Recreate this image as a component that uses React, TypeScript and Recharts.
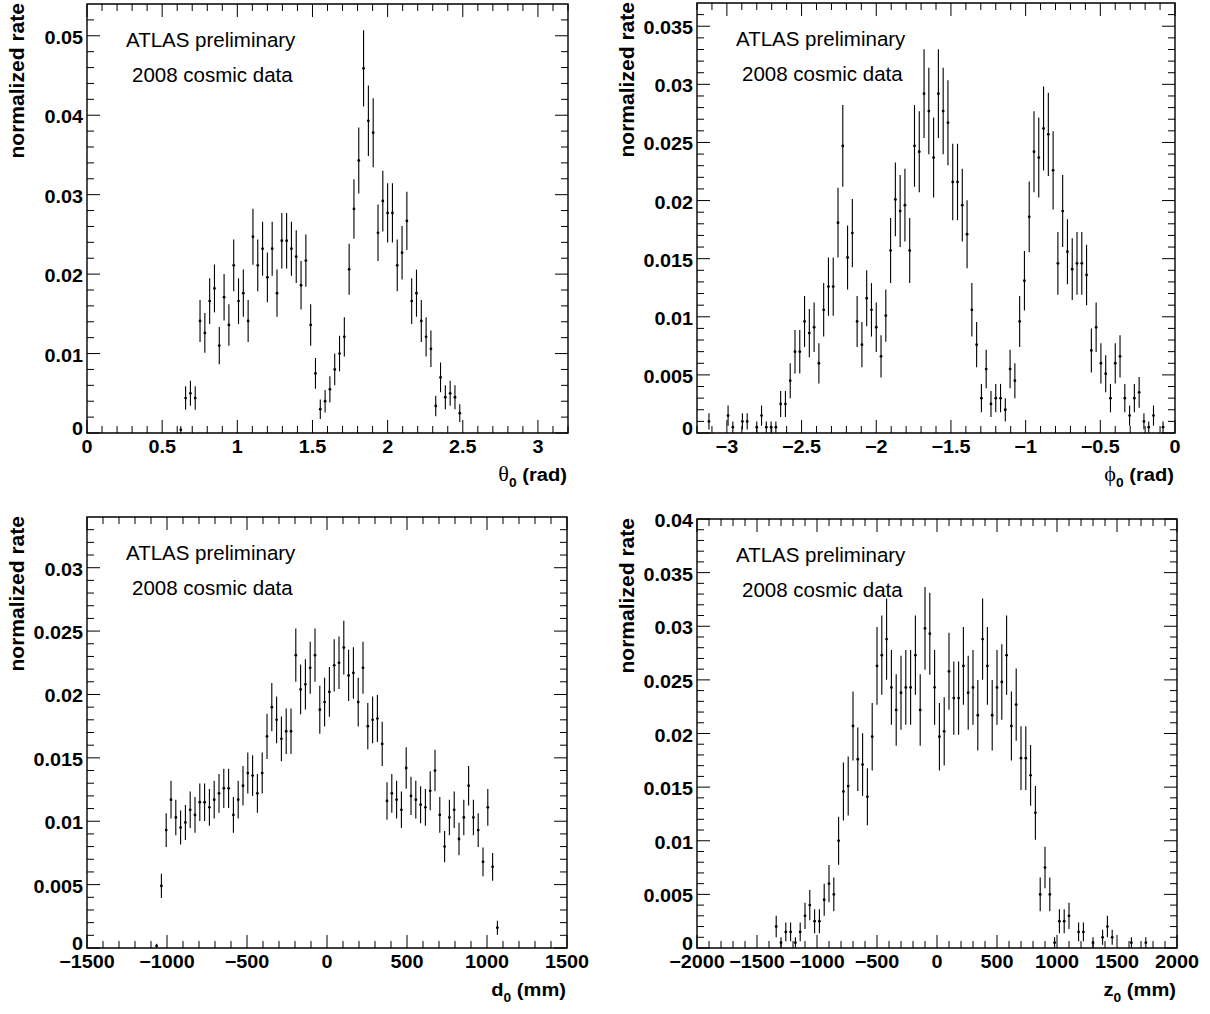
import React from 'react';
import { ScatterChart, Scatter, XAxis, YAxis, ErrorBar, ReferenceArea } from 'recharts';

// ---------- DATA (bin centres and normalized rates) ----------
const THETA_X = [0.624,0.656,0.688,0.72,0.752,0.784,0.816,0.848,0.88,0.912,0.944,0.976,1.008,1.04,1.072,1.104,1.136,1.168,1.2,1.232,1.264,1.296,1.328,1.36,1.392,1.424,1.456,1.488,1.52,1.552,1.584,1.616,1.648,1.68,1.712,1.744,1.776,1.808,1.84,1.872,1.904,1.936,1.968,2.0,2.032,2.064,2.096,2.128,2.16,2.192,2.224,2.256,2.288,2.32,2.352,2.384,2.416,2.448,2.48];
const THETA_Y = [0.0004,0.0044,0.005,0.0044,0.0141,0.0126,0.0166,0.0182,0.011,0.0171,0.0136,0.0211,0.0166,0.0176,0.0141,0.0247,0.0211,0.0232,0.0196,0.0232,0.0176,0.0242,0.0242,0.0232,0.0222,0.0186,0.0217,0.0136,0.0075,0.003,0.004,0.0055,0.008,0.01,0.0121,0.0206,0.0282,0.0343,0.0459,0.0393,0.0378,0.0252,0.0292,0.0277,0.0277,0.0211,0.0227,0.0267,0.0166,0.0176,0.0141,0.0121,0.0106,0.0034,0.007,0.0045,0.005,0.0045,0.0025];

const PHI_X = [-3.12,-2.992,-2.96,-2.896,-2.864,-2.8,-2.768,-2.736,-2.704,-2.672,-2.64,-2.608,-2.576,-2.544,-2.512,-2.48,-2.448,-2.416,-2.384,-2.352,-2.32,-2.288,-2.256,-2.224,-2.192,-2.16,-2.128,-2.096,-2.064,-2.032,-2.0,-1.968,-1.936,-1.904,-1.872,-1.84,-1.808,-1.776,-1.744,-1.712,-1.68,-1.648,-1.616,-1.584,-1.552,-1.52,-1.488,-1.456,-1.424,-1.392,-1.36,-1.328,-1.296,-1.264,-1.232,-1.2,-1.168,-1.136,-1.104,-1.072,-1.04,-1.008,-0.976,-0.944,-0.912,-0.88,-0.848,-0.816,-0.784,-0.752,-0.72,-0.688,-0.656,-0.624,-0.592,-0.56,-0.528,-0.496,-0.464,-0.432,-0.4,-0.368,-0.336,-0.304,-0.272,-0.24,-0.208,-0.176,-0.144,-0.08];
const PHI_Y = [0.001,0.0015,0.0005,0.001,0.001,0.0005,0.0015,0.0005,0.0005,0.0005,0.0025,0.0025,0.0045,0.007,0.007,0.0096,0.0086,0.0091,0.006,0.0106,0.0126,0.0126,0.0181,0.0247,0.0151,0.0172,0.0096,0.0076,0.0116,0.0106,0.0091,0.0066,0.0101,0.0157,0.0201,0.0191,0.0196,0.0157,0.0247,0.0242,0.0292,0.0277,0.0237,0.0292,0.0277,0.0267,0.0216,0.0216,0.0196,0.0171,0.0106,0.0076,0.003,0.0055,0.0025,0.003,0.003,0.002,0.0055,0.0045,0.0096,0.0131,0.0186,0.0242,0.0237,0.0262,0.0257,0.0226,0.0146,0.0191,0.0156,0.0141,0.0146,0.0146,0.0136,0.0071,0.0091,0.006,0.0051,0.003,0.006,0.0066,0.003,0.0015,0.003,0.0035,0.001,0.0005,0.0015,0.0005];

const D0_X = [-1065,-1035,-1005,-975,-945,-915,-885,-855,-825,-795,-765,-735,-705,-675,-645,-615,-585,-555,-525,-495,-465,-435,-405,-375,-345,-315,-285,-255,-225,-195,-165,-135,-105,-75,-45,-15,15,45,75,105,135,165,195,225,255,285,315,345,375,405,435,465,495,525,555,585,615,645,675,705,735,765,795,825,855,885,915,945,975,1005,1035,1065];
const D0_Y = [0.00016,0.0049,0.0093,0.0117,0.0103,0.0095,0.0099,0.0109,0.0105,0.0115,0.0115,0.0111,0.0117,0.0122,0.0126,0.0126,0.0105,0.0117,0.0128,0.0138,0.0136,0.0122,0.0138,0.0167,0.019,0.018,0.0165,0.0171,0.0171,0.0231,0.0204,0.0208,0.0221,0.0231,0.0188,0.0194,0.0202,0.0223,0.0225,0.0237,0.0215,0.0217,0.0194,0.0221,0.0175,0.018,0.0181,0.0161,0.0116,0.0122,0.0117,0.0109,0.0142,0.012,0.0117,0.0113,0.0111,0.0124,0.014,0.0105,0.008,0.0103,0.0109,0.0086,0.0103,0.0128,0.0103,0.0093,0.0068,0.0111,0.0064,0.0016];

const Z0_X = [-1340,-1300,-1260,-1220,-1180,-1140,-1100,-1060,-1020,-980,-940,-900,-860,-820,-780,-740,-700,-660,-620,-580,-540,-500,-460,-420,-380,-340,-300,-260,-220,-180,-140,-100,-60,-20,20,60,100,140,180,220,260,300,340,380,420,460,500,540,580,620,660,700,740,780,820,860,900,940,980,1020,1060,1100,1180,1220,1300,1380,1420,1460,1620,1740];
const Z0_Y = [0.002,0.0005,0.0015,0.0015,0.0005,0.0015,0.003,0.004,0.0025,0.0025,0.0045,0.006,0.005,0.01,0.0146,0.0151,0.0207,0.0176,0.0171,0.0141,0.0197,0.0263,0.0273,0.0288,0.0243,0.0222,0.0238,0.0243,0.0243,0.0273,0.0222,0.0298,0.0293,0.0243,0.0197,0.0202,0.0258,0.0233,0.0233,0.0263,0.0238,0.0243,0.0217,0.0288,0.0263,0.0217,0.0243,0.0248,0.0273,0.0207,0.0227,0.0177,0.0177,0.0161,0.0126,0.005,0.0075,0.005,0.0005,0.0025,0.0025,0.003,0.0015,0.0015,0.0005,0.001,0.002,0.001,0.0005,0.0005];

// weight of one event in each normalized histogram (Poisson errors: err = sqrt(rate * weight))
const THETA_WEIGHT = 0.0005;
const PHI_WEIGHT = 0.0005;
const D0_WEIGHT = 0.00019;
const Z0_WEIGHT = 0.0005;

// ---------- TICK LABELS ----------
const THETA_MAJOR = [0, 0.5, 1, 1.5, 2, 2.5, 3];
const THETA_LABELS = ['0', '0.5', '1', '1.5', '2', '2.5', '3'];
const THETA_Y_MAJOR = [0, 0.01, 0.02, 0.03, 0.04, 0.05];
const THETA_Y_LABELS = ['0', '0.01', '0.02', '0.03', '0.04', '0.05'];

const PHI_MAJOR = [-3, -2.5, -2, -1.5, -1, -0.5, 0];
const PHI_LABELS = ['\u22123', '\u22122.5', '\u22122', '\u22121.5', '\u22121', '\u22120.5', '0'];
const PHI_Y_MAJOR = [0, 0.005, 0.01, 0.015, 0.02, 0.025, 0.03, 0.035];
const PHI_Y_LABELS = ['0', '0.005', '0.01', '0.015', '0.02', '0.025', '0.03', '0.035'];

const D0_MAJOR = [-1500, -1000, -500, 0, 500, 1000, 1500];
const D0_LABELS = ['\u22121500', '\u22121000', '\u2212500', '0', '500', '1000', '1500'];
const D0_Y_MAJOR = [0, 0.005, 0.01, 0.015, 0.02, 0.025, 0.03];
const D0_Y_LABELS = ['0', '0.005', '0.01', '0.015', '0.02', '0.025', '0.03'];

const Z0_MAJOR = [-2000, -1500, -1000, -500, 0, 500, 1000, 1500, 2000];
const Z0_LABELS = ['\u22122000', '\u22121500', '\u22121000', '\u2212500', '0', '500', '1000', '1500', '2000'];
const Z0_Y_MAJOR = [0, 0.005, 0.01, 0.015, 0.02, 0.025, 0.03, 0.035, 0.04];
const Z0_Y_LABELS = ['0', '0.005', '0.01', '0.015', '0.02', '0.025', '0.03', '0.035', '0.04'];

const Y_TITLE = 'normalized rate';
const TEXT_LINE1 = 'ATLAS preliminary';
const TEXT_LINE2 = '2008 cosmic data';

// ---------- helpers ----------
const SANS = "'Liberation Sans', Arial, Helvetica, sans-serif";
const SERIF = "'Liberation Serif', 'Times New Roman', serif";
const W = 605;
const H = 507;

function stepTicks(lo: number, hi: number, step: number): number[] {
  const n = Math.round((hi - lo) / step);
  const out: number[] = [];
  for (let i = 0; i <= n; i++) out.push(Number((lo + i * step).toFixed(6)));
  return out;
}

function buildData(xs: number[], ys: number[], w: number) {
  return xs.map((x, i) => ({ x, y: ys[i], err: Math.sqrt(ys[i] * w) }));
}

type Cfg = {
  left: number;
  top: number;
  plot: { left: number; top: number; right: number; bottom: number }; // local coords
  xDomain: [number, number];
  yDomain: [number, number];
  xTicks: number[];
  yTicks: number[];
  xStep: number;
  yStep: number;
  xMajor: number[];
  xLabels: string[];
  yMajor: number[];
  yLabels: string[];
  data: { x: number; y: number; err: number }[];
  titleSym: string;
  titleSymSerif: boolean;
  titleUnit: string;
};

const PANELS: Cfg[] = [
  {
    left: 0, top: 0,
    plot: { left: 87, top: 4, right: 568, bottom: 433 },
    xDomain: [0, 3.2], yDomain: [0, 0.054],
    xTicks: stepTicks(0, 3.2, 0.1), yTicks: stepTicks(0, 0.052, 0.002),
    xStep: 0.1, yStep: 0.002,
    xMajor: THETA_MAJOR, xLabels: THETA_LABELS, yMajor: THETA_Y_MAJOR, yLabels: THETA_Y_LABELS,
    data: buildData(THETA_X, THETA_Y, THETA_WEIGHT),
    titleSym: '\u03b8', titleSymSerif: true, titleUnit: ' (rad)',
  },
  {
    left: 605, top: 0,
    plot: { left: 92, top: 3, right: 570, bottom: 433 },
    xDomain: [-3.2, 0], yDomain: [0, 0.037],
    xTicks: stepTicks(-3.2, 0, 0.1), yTicks: stepTicks(0, 0.036, 0.001),
    xStep: 0.1, yStep: 0.001,
    xMajor: PHI_MAJOR, xLabels: PHI_LABELS, yMajor: PHI_Y_MAJOR, yLabels: PHI_Y_LABELS,
    data: buildData(PHI_X, PHI_Y, PHI_WEIGHT),
    titleSym: '\u03d5', titleSymSerif: true, titleUnit: ' (rad)',
  },
  {
    left: 0, top: 507,
    plot: { left: 87, top: 10, right: 567, bottom: 441 },
    xDomain: [-1500, 1500], yDomain: [0, 0.034],
    xTicks: stepTicks(-1500, 1500, 100), yTicks: stepTicks(0, 0.033, 0.001),
    xStep: 100, yStep: 0.001,
    xMajor: D0_MAJOR, xLabels: D0_LABELS, yMajor: D0_Y_MAJOR, yLabels: D0_Y_LABELS,
    data: buildData(D0_X, D0_Y, D0_WEIGHT),
    titleSym: 'd', titleSymSerif: false, titleUnit: ' (mm)',
  },
  {
    left: 605, top: 507,
    plot: { left: 92, top: 12, right: 572, bottom: 441 },
    xDomain: [-2000, 2000], yDomain: [0, 0.04],
    xTicks: stepTicks(-2000, 2000, 100), yTicks: stepTicks(0, 0.04, 0.001),
    xStep: 100, yStep: 0.001,
    xMajor: Z0_MAJOR, xLabels: Z0_LABELS, yMajor: Z0_Y_MAJOR, yLabels: Z0_Y_LABELS,
    data: buildData(Z0_X, Z0_Y, Z0_WEIGHT),
    titleSym: 'z', titleSymSerif: false, titleUnit: ' (mm)',
  },
];

function renderXTick(props: any, cfg: Cfg) {
  const { x, payload } = props;
  const v = payload.value;
  const idx = cfg.xMajor.findIndex((m) => Math.abs(m - v) < cfg.xStep * 0.01);
  const major = idx >= 0;
  const len = major ? 13 : 7;
  const topY = cfg.plot.top;
  const botY = cfg.plot.bottom;
  return (
    <g>
      <line x1={x} x2={x} y1={botY} y2={botY - len} stroke="#000" strokeWidth={1} />
      <line x1={x} x2={x} y1={topY} y2={topY + len} stroke="#000" strokeWidth={1} />
      {major && (
        <text
          transform={`translate(${x},${botY + 20}) scale(1.1,1)`}
          textAnchor="middle"
          fontSize={18}
          fontWeight="bold"
          fontFamily={SANS}
          fill="#000"
        >
          {cfg.xLabels[idx]}
        </text>
      )}
    </g>
  );
}

function renderYTick(props: any, cfg: Cfg) {
  const { y, payload } = props;
  const v = payload.value;
  const idx = cfg.yMajor.findIndex((m) => Math.abs(m - v) < cfg.yStep * 0.01);
  const major = idx >= 0;
  const len = major ? 13 : 7;
  const leftX = cfg.plot.left;
  const rightX = cfg.plot.right;
  // the zero label sits a little higher so it clears the x-axis labels
  const dy = Math.abs(v) < 1e-12 ? 2 : 8;
  return (
    <g>
      <line x1={leftX} x2={leftX + len} y1={y} y2={y} stroke="#000" strokeWidth={1} />
      <line x1={rightX} x2={rightX - len} y1={y} y2={y} stroke="#000" strokeWidth={1} />
      {major && (
        <text
          transform={`translate(${leftX - 4},${y + dy}) scale(1.1,1)`}
          textAnchor="end"
          fontSize={18}
          fontWeight="bold"
          fontFamily={SANS}
          fill="#000"
        >
          {cfg.yLabels[idx]}
        </text>
      )}
    </g>
  );
}

const Dot = (props: any) => {
  const { cx, cy } = props;
  if (cx == null || cy == null) return null;
  return <circle cx={cx} cy={cy} r={1.4} fill="#000" />;
};

function Panel({ cfg }: { cfg: Cfg }) {
  const p = cfg.plot;
  // axes take 1px each (Recharts skips zero-size axes)
  const margin = { top: p.top, left: p.left - 1, right: W - p.right, bottom: H - p.bottom - 1 };
  return (
    <div style={{ position: 'absolute', left: cfg.left, top: cfg.top, width: W, height: H }}>
      <ScatterChart width={W} height={H} margin={margin}>
        <XAxis
          xAxisId={0}
          dataKey="x"
          type="number"
          domain={cfg.xDomain}
          allowDataOverflow
          ticks={cfg.xTicks}
          interval={0}
          height={1}
          tickSize={0}
          tickMargin={0}
          tickLine={false}
          axisLine={false}
          tick={(pr: any) => renderXTick(pr, cfg)}
        />
        <YAxis
          yAxisId={0}
          dataKey="y"
          type="number"
          domain={cfg.yDomain}
          allowDataOverflow
          ticks={cfg.yTicks}
          interval={0}
          width={1}
          tickSize={0}
          tickMargin={0}
          tickLine={false}
          axisLine={false}
          tick={(pr: any) => renderYTick(pr, cfg)}
        />
        <ReferenceArea
          xAxisId={0}
          yAxisId={0}
          x1={cfg.xDomain[0]}
          x2={cfg.xDomain[1]}
          y1={cfg.yDomain[0]}
          y2={cfg.yDomain[1]}
          fill="none"
          fillOpacity={0}
          stroke="#000"
          strokeWidth={1.4}
          ifOverflow="visible"
        />
        <Scatter
          xAxisId={0}
          yAxisId={0}
          data={cfg.data}
          dataKey="y"
          shape={Dot}
          isAnimationActive={false}
        >
          <ErrorBar dataKey="err" direction="y" width={0} stroke="#000" strokeWidth={1.1} isAnimationActive={false} />
        </Scatter>
      </ScatterChart>
      <svg
        width={W}
        height={H}
        style={{ position: 'absolute', left: 0, top: 0, pointerEvents: 'none' }}
      >
        <text
          transform={`translate(${p.left - 63},${p.top - 1}) rotate(-90) scale(1.08,1)`}
          textAnchor="end"
          fontSize={19.5}
          fontWeight="bold"
          fontFamily={SANS}
          fill="#000"
        >
          {Y_TITLE}
        </text>
        <text x={p.left + 39} y={p.top + 43} fontSize={20.5} fontFamily={SANS} fill="#000">
          {TEXT_LINE1}
        </text>
        <text x={p.left + 45} y={p.top + 78} fontSize={20.5} fontFamily={SANS} fill="#000">
          {TEXT_LINE2}
        </text>
        <text
          transform={`translate(${p.right - 1},${p.bottom + 48}) scale(1.06,1)`}
          textAnchor="end"
          fontSize={19}
          fontWeight="bold"
          fontFamily={SANS}
          fill="#000"
        >
          <tspan
            fontFamily={cfg.titleSymSerif ? SERIF : SANS}
            fontWeight={cfg.titleSymSerif ? 'normal' : 'bold'}
            fontSize={cfg.titleSymSerif ? 21 : 19}
          >
            {cfg.titleSym}
          </tspan>
          <tspan fontSize={13} dy={6}>0</tspan>
          <tspan dy={-6}>{cfg.titleUnit}</tspan>
        </text>
      </svg>
    </div>
  );
}

export default function App() {
  return (
    <div
      style={{
        position: 'absolute',
        left: 0,
        top: 0,
        width: 1210,
        height: 1014,
        background: '#fff',
        overflow: 'hidden',
      }}
    >
      {PANELS.map((cfg, i) => (
        <Panel key={i} cfg={cfg} />
      ))}
    </div>
  );
}
